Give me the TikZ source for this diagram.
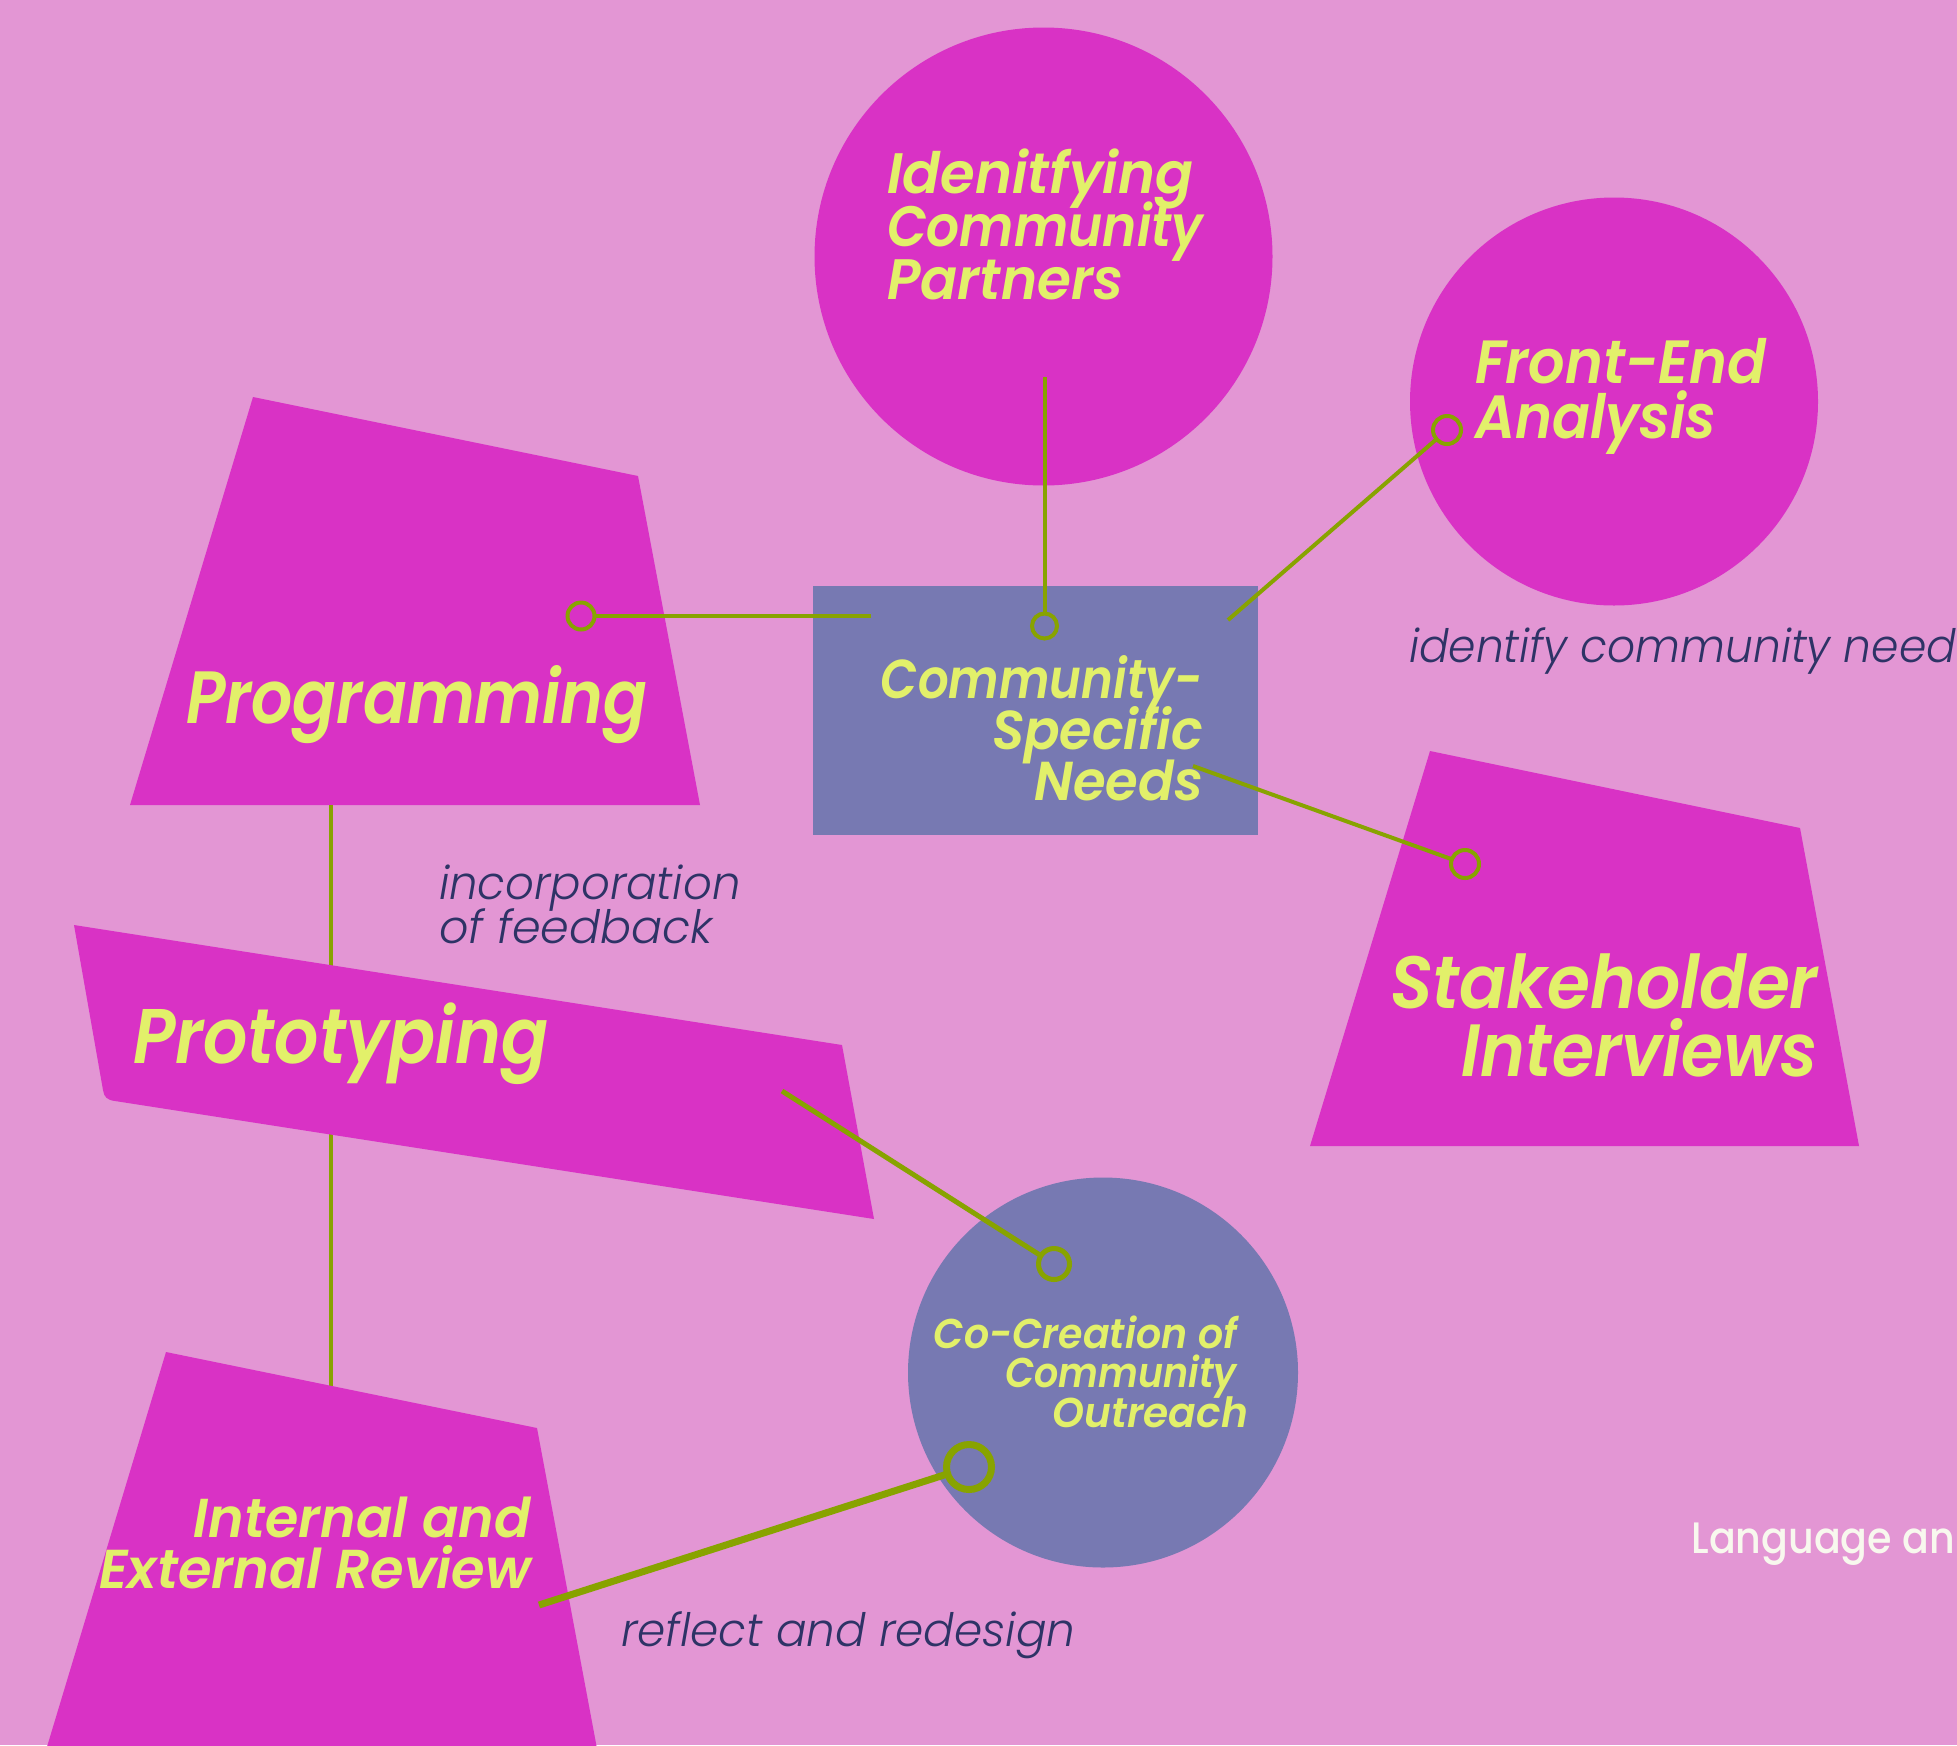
\documentclass[tikz,border=0pt]{standalone}
\usepackage{graphicx}
\usepackage{fontspec}
\setmainfont{Poppins}
\newfontfamily\headfont{Poppins SemiBold Italic}
\newfontfamily\notefont{Poppins Light Italic}
\newfontfamily\tagfont{Poppins Medium}

\definecolor{bgpink}{HTML}{E396D4}
\definecolor{shapemag}{HTML}{D932C5}
\definecolor{slate}{HTML}{7779B2}
\definecolor{lime}{HTML}{E2F06A}
\definecolor{linkgreen}{HTML}{88A300}
\definecolor{ink}{HTML}{2E3366}
\definecolor{chalk}{HTML}{F8F8EE}

% heading / note fonts: size and fixed line pitch
\newcommand\hf[2]{\headfont\fontsize{#1}{#2}\selectfont\lineskiplimit=-100pt\lineskip=0pt}
\newcommand\nf[2]{\notefont\fontsize{#1}{#2}\selectfont\lineskiplimit=-100pt\lineskip=0pt}
\newcommand\sx[2]{\scalebox{#1}[1]{#2}}

\tikzset{
  disc/.style={circle, inner sep=0pt, outer sep=0pt, draw=none},
  head/.style={text=lime, inner sep=0pt, outer sep=0pt},
  note/.style={text=ink, inner sep=0pt, outer sep=0pt},
  link/.style={draw=linkgreen, line width=2pt},
  ring/.style={circle, draw=linkgreen, line width=2pt, inner sep=0pt, outer sep=0pt},
}

\begin{document}
\begin{tikzpicture}[x=0.5pt, y=-0.5pt]
  \useasboundingbox (0,0) rectangle (1957,1745);
  \clip (0,0) rectangle (1957,1745);
  \fill[bgpink] (0,0) rectangle (1957,1745);

  % round stages
  \node[disc, fill=shapemag, minimum size=229pt] (partners) at (1043.5,256.5) {};
  \node[disc, fill=shapemag, minimum size=204pt] (frontend) at (1614,401.5) {};

  % slanted blocks
  \fill[shapemag] (253,397) -- (638,476) -- (700,805) -- (130,805) -- cycle;
  \fill[shapemag] (1430,751) -- (1800,828) -- (1859,1146) -- (1310,1146) -- cycle;

  % central box
  \node[fill=slate, minimum width=222.5pt, minimum height=124.5pt, inner sep=0pt, outer sep=0pt, anchor=north west] (needs) at (813,586) {};

  % spine from Programming down to the review block
  \coordinate (progfoot) at (331,805);
  \coordinate (revtop) at (331,1386);
  \draw[link] (progfoot) -- (revtop);

  % Prototyping banner
  \fill[shapemag] (74,925) -- (842,1045) -- (874,1219) -- (115,1101)
     .. controls (107,1100) and (104,1097) .. (103,1090) -- cycle;

  \node[disc, fill=slate, minimum size=195pt] (cocreation) at (1103,1372.5) {};

  % review block
  \fill[shapemag] (166,1352) -- (537,1428) -- (601,1770) -- (40,1770) -- cycle;

  % connectors with ring ends
  \coordinate (partnersstem) at (1044.5,377);
  \node[ring, minimum size=12.5pt] (rneedstop) at (1044.5,626) {};
  \draw[link] (partnersstem) -- (rneedstop);

  \coordinate (needsw) at (871,616);
  \node[ring, minimum size=13.5pt] (rprog) at (581,616) {};
  \draw[link] (needsw) -- (rprog);

  \coordinate (needsne) at (1228,620);
  \node[ring, minimum size=14pt] (rfront) at (1447,430) {};
  \draw[link] (needsne) -- (rfront);

  \coordinate (needsse) at (1193,766);
  \node[ring, minimum size=14pt] (rstake) at (1465,864) {};
  \draw[link] (needsse) -- (rstake);

  \coordinate (protoe) at (782,1091);
  \node[ring, line width=2.5pt, minimum size=15.5pt] (rcotop) at (1054,1264) {};
  \draw[link, line width=2.5pt] (protoe) -- (rcotop);

  \node[ring, line width=3.5pt, minimum size=22.5pt] (rcolow) at (969,1467) {};
  \coordinate (reviewe) at (539,1605);
  \draw[link, line width=3.5pt] (rcolow) -- (reviewe);

  % stage titles (base anchor = last line)
  \node[head, align=left, font=\hf{28.5pt}{26.5pt}, anchor=base west] (tpa) at (887,299)
    {\sx{0.984}{Idenitfying}\\ \sx{0.91}{Community}\\ \sx{0.963}{Partners}};

  \node[head, align=left, font=\hf{30.5pt}{27.5pt}, anchor=base west] (tfe) at (1475,438)
    {\sx{0.94}{Front-End}\\ \sx{0.919}{Analysis}};

  \node[head, align=right, font=\hf{27.4pt}{25.5pt}, anchor=base east] (tne) at (1203,800)
    {\sx{0.88}{Community-}\\ \sx{0.96}{Specific}\\ \sx{0.965}{Needs}};

  \node[head, align=right, font=\hf{37pt}{34pt}, anchor=base east] (tst) at (1818,1076)
    {\sx{0.94}{Stakeholder}\\ \sx{0.92}{Interviews}};

  \node[head, font=\hf{37pt}{37pt}, anchor=base west] (tprog) at (186,723) {\sx{0.876}{Programming}};
  \node[head, font=\hf{38.7pt}{38.7pt}, anchor=base west] (tproto) at (133,1063) {\sx{0.9}{Prototyping}};

  \node[head, align=right, font=\hf{20.8pt}{19.75pt}, anchor=base east] (tco) at (1248,1427)
    {\sx{0.95}{Co-Creation of}\kern5.5pt\\ \sx{0.915}{Community}\kern5.5pt\\ \sx{0.98}{Outreach}};

  \node[head, align=right, font=\hf{27.4pt}{25.5pt}, anchor=base east] (tre) at (531,1588)
    {\sx{0.984}{Internal and}\\ \sx{0.99}{External Review}};

  % connector notes
  \node[note, align=left, font=\nf{23pt}{22pt}, anchor=base west] (nfb) at (439,943)
    {\sx{0.98}{incorporation}\\ of feedback};
  \node[note, font=\nf{23pt}{23pt}, anchor=base west] (nid) at (1409,662) {\sx{0.955}{identify community need}};
  \node[note, font=\nf{23pt}{23pt}, anchor=base west] (nre) at (621,1646) {\sx{0.985}{reflect and redesign}};

  \node[text=chalk, inner sep=0pt, font=\tagfont\fontsize{22pt}{22pt}\selectfont, anchor=base west] (lang) at (1691,1553) {\sx{0.9}{Language an}};
\end{tikzpicture}
\end{document}
